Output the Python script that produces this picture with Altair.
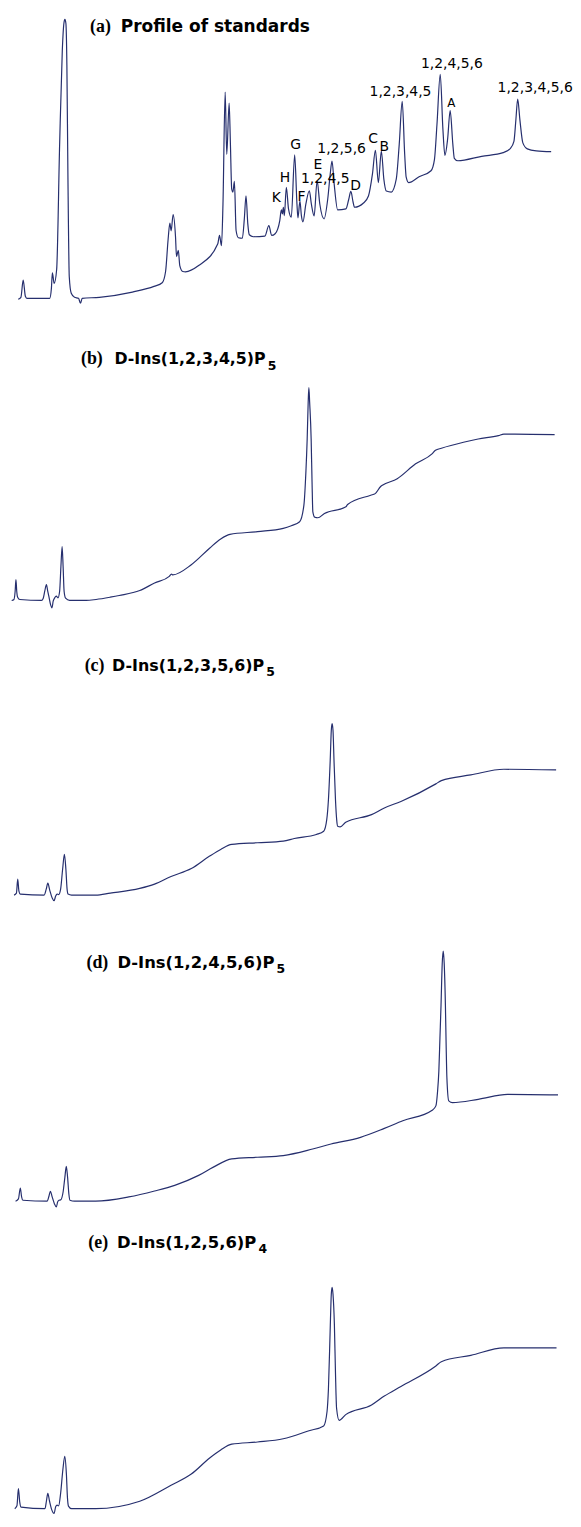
import altair as alt
import pandas as pd

# ---------------- data ----------------
# x: retention time (arbitrary min), y: detector signal above baseline (arbitrary units)

# (a) Profile of standards
a_time = [1.83, 2.10, 2.33, 2.55, 2.70, 5.00, 5.17, 5.27, 5.45, 5.70, 6.00, 6.27, 6.43, 6.53, 6.63,
          6.73, 6.83, 6.97, 7.17, 7.50, 7.90, 8.10, 8.27, 10.00, 13.33, 15.50, 16.33, 16.67, 16.93,
          17.10, 17.23, 17.43, 17.67, 17.77, 17.95, 18.10, 18.40, 18.67, 20.00, 21.93, 22.10, 22.30,
          22.45, 22.67, 22.83, 23.07, 23.20, 23.33, 23.45, 23.60, 23.77, 24.00, 24.40, 24.60, 24.77,
          24.95, 25.10, 25.50, 26.67, 27.07, 27.35, 27.70, 28.17, 28.33, 28.43, 28.53, 28.63, 28.83,
          29.05, 29.33, 29.67, 29.90, 30.00, 30.20, 30.35, 30.50, 30.80, 31.15, 31.35, 31.63, 31.93,
          32.20, 32.63, 33.00, 33.25, 33.43, 33.65, 34.00, 34.83, 35.10, 35.33, 35.55, 35.70, 36.60,
          37.10, 37.50, 37.80, 38.10, 38.40, 38.65, 38.90, 39.40, 39.90, 40.20, 40.50, 40.75, 40.90,
          41.15, 42.20, 43.40, 43.75, 44.00, 44.33, 44.60, 44.80, 45.07, 45.33, 45.60, 45.75, 46.10,
          48.50, 50.67, 51.40, 51.75, 51.95, 52.13, 52.35, 52.65, 53.10, 54.00, 55.50]
a_signal = [-1, 1, 18.3, 2, 0, 0, 10, 25.7, 15, 29, 155, 250, 277, 281, 277,
            235, 128.3, 21.7, 5, 1, 0, -5, 0, 1, 6.3, 12, 15.7, 27, 60,
            75.7, 68, 84.3, 62, 42, 48.3, 33, 27, 26.7, 33, 55, 63.3, 53,
            95, 207.7, 145, 196.7, 155, 110, 107, 117.7, 68.3, 61, 60.5, 80, 103.3,
            75, 64, 62, 62.7, 73.3, 63.3, 65, 78.3, 89, 85, 91.7, 83.3, 111.7,
            90, 81.7, 144.5, 95, 81, 98, 83, 77, 95, 108.3, 95, 83, 118.3,
            95, 80, 100, 125, 138.3, 115, 89, 90, 99, 107.7, 97, 91.7, 96,
            103, 125, 149, 116.5, 148.3, 120, 108, 107, 120, 155, 198.3, 145, 122,
            116.5, 122.5, 128.5, 140, 175, 225.5, 170, 144, 160, 189, 155, 141, 138.5,
            143, 146.7, 151, 158, 180, 200.7, 180, 156.5, 150.5, 148.5, 147.7]

a_labels = ["K", "H", "G", "F", "E", "1,2,4,5", "1,2,5,6", "D", "C", "B",
            "1,2,3,4,5", "1,2,4,5,6", "1,2,3,4,5,6"]
a_label_time = [27.83, 28.70, 29.77, 30.37, 32.00, 32.75, 34.40, 35.80, 37.58, 38.70,
                40.33, 45.50, 53.89]
a_label_signal = [96.7, 116.7, 150, 98.3, 130.5, 116.0, 146.7, 109, 156.7, 148.3,
                  203.3, 232.3, 208]
a_small_label = ["A"]
a_small_time = [45.45]
a_small_signal = [192.3]

# (b) D-Ins(1,2,3,4,5)P5
b_time = [1.17, 1.40, 1.52, 1.60, 1.68, 1.77, 2.00, 4.17, 4.35, 4.50, 4.67, 4.80, 4.93, 5.10, 5.23,
          5.35, 5.50, 5.67, 5.83, 6.00, 6.13, 6.25, 6.35, 6.45, 6.60, 7.00, 8.67, 9.67, 11.10, 12.00,
          14.07, 15.56, 17.04, 17.26, 17.40, 19.26, 21.10, 22.22, 23.15, 25.93, 28.52, 29.33, 30.17,
          30.60, 30.80, 30.93, 31.03, 31.10, 31.18, 31.33, 31.42, 31.50, 31.70, 32.00, 32.67, 34.83,
          35.00, 37.33, 37.78, 38.33, 38.50, 40.00, 41.85, 43.50, 43.85, 44.45, 46.67, 48.15, 50.19,
          50.74, 51.85, 55.85]
b_signal = [-0.3, 0.7, 9, 20.7, 9, 3, 0.7, -0.3, 2, 9, 15.7, 9, 3, -5, -7.7,
            -1, 2.3, 4, 2.3, 9, 34, 54, 34, 9, 2, -0.3, -0.3, 0.7, 3, 4.7,
            9.7, 17.3, 24, 26.3, 25.5, 35.7, 52.3, 61.7, 66.3, 69, 72.3, 75, 79,
            95.7, 129, 162.3, 199, 214, 199, 162.3, 119, 89, 83.5, 83, 87.3, 94,
            96.3, 105.7, 107.3, 114.5, 115.7, 122.3, 137.3, 147.3, 151, 153, 159, 162.3, 165.7,
            167.3, 167.3, 166.7]

# (c) D-Ins(1,2,3,5,6)P5
c_time = [1.41, 1.65, 1.78, 1.90, 2.04, 4.44, 4.65, 4.81, 5.00, 5.25, 5.44, 5.60, 5.74, 5.90, 6.10,
          6.30, 6.48, 6.63, 6.75, 6.85, 7.20, 9.63, 11.10, 14.07, 15.56, 17.22, 19.26, 21.11, 22.22,
          23.33, 25.93, 28.52, 29.63, 31.85, 32.59, 32.90, 33.07, 33.25, 33.36, 33.44, 33.53, 33.63,
          33.78, 33.90, 34.00, 34.26, 34.81, 37.41, 38.70, 40.37, 43.89, 44.44, 47.41, 50.74, 56.00]
c_signal = [0, 2, 16, 4, 1, 0, 6, 12, 5, -3, -5.7, -1, 1, 0.5, 6,
            26, 41, 26, 6, 1, 0, 0, 2, 6.7, 11, 18.7, 26.7, 39.3, 46,
            51, 52.7, 54.3, 57, 61, 64.3, 76, 96, 136, 166, 172.7, 166, 136,
            96, 76, 69.3, 68.7, 73.3, 81, 87.7, 94.3, 112, 115.3, 121, 126.7, 126]

# (d) D-Ins(1,2,4,5,6)P5
d_time = [1.56, 1.85, 2.04, 2.17, 2.30, 4.74, 4.93, 5.07, 5.25, 5.48, 5.67, 5.80, 5.93, 6.10, 6.35,
          6.53, 6.67, 6.80, 6.93, 7.04, 7.50, 9.63, 12.96, 15.56, 17.59, 20.00, 21.48, 23.33, 25.93,
          28.52, 31.48, 33.33, 36.30, 38.70, 40.56, 43.52, 43.89, 44.05, 44.19, 44.30, 44.41, 44.53,
          44.63, 44.73, 44.85, 44.93, 45.00, 45.19, 45.56, 48.15, 51.11, 56.19]
d_signal = [-0.3, 2, 13, 4, 0.7, -0.3, 5, 9.7, 4, -3, -6, -1, 0.7, 1, 9,
            24, 34.7, 24, 7, 0.7, -0.3, -0.3, 4, 10, 15.7, 25.7, 34, 42.3, 44,
            45.7, 52.3, 57.3, 64, 73, 80.7, 91.3, 95.7, 109, 130.7, 164, 197.3, 239,
            251.7, 239, 197.3, 154, 124, 100.7, 99, 102.3, 107.3, 106.7]

# (e) D-Ins(1,2,5,6)P4
e_time = [1.48, 1.70, 1.85, 1.98, 2.11, 4.52, 4.67, 4.81, 4.98, 5.20, 5.44, 5.60, 5.74, 5.90, 6.10,
          6.33, 6.52, 6.68, 6.79, 6.89, 7.20, 9.63, 14.07, 17.22, 19.26, 21.11, 22.22, 23.33, 25.93,
          28.52, 31.11, 32.59, 32.93, 33.07, 33.26, 33.36, 33.44, 33.53, 33.67, 33.78, 33.89, 34.15,
          34.81, 37.41, 38.70, 40.37, 43.89, 44.44, 47.41, 50.74, 56.04]
e_signal = [0, 3, 21, 7, 1.7, 0, 8, 16, 8, -1, -5, 2, 3.7, 3, 16,
            41, 54.3, 36, 11, 2.7, 0, 0, 7.7, 24.3, 36, 52.7, 61, 67, 69.3,
            72.7, 81, 86, 101, 124.3, 191, 223, 230, 223, 191, 141, 104.3, 91.7,
            97.7, 107.7, 117, 127, 148.3, 152.7, 159.3, 167, 167]

panel_titles = [
    ("(a)", "Profile of standards", ""),
    ("(b)", "D-Ins(1,2,3,4,5)P", "5"),
    ("(c)", "D-Ins(1,2,3,5,6)P", "5"),
    ("(d)", "D-Ins(1,2,4,5,6)P", "5"),
    ("(e)", "D-Ins(1,2,5,6)P", "4"),
]

# ---------------- styling / layout ----------------
LINE = "#262f6e"
XDOM = [0.8, 57.7]
W = 569
SANS = "DejaVu Sans"
SERIF = "Liberation Serif"

# (panel height, y domain,
#  title layout: serif x, sans x, sans align, baseline y, sub x, sub y, sans size)
layout = [
    (302, [-15, 287], (82.7, 113.5, "left", 19.0, 0, 0, 17.1)),
    (330, [-41, 289], (73.5, 259.4, "right", 51.5, 261.6, 57.3, 15.9)),
    (300, [-44, 256], (77.2, 258.0, "right", 30.0, 260.2, 35.0, 16.0)),
    (290, [-26, 264], (79.0, 268.3, "right", 29.3, 270.5, 34.3, 16.5)),
    (289, [-5.2, 292.9], (80.9, 250.1, "right", 21.7, 252.3, 26.7, 16.5)),
]


def xs():
    return alt.X("time:Q", scale=alt.Scale(domain=XDOM, nice=False, zero=False), axis=None)


def ys(dom):
    return alt.Y("signal:Q", scale=alt.Scale(domain=dom, nice=False, zero=False), axis=None)


def trace(times, signal, dom):
    df = pd.DataFrame({"time": times, "signal": signal})
    return alt.Chart(df).mark_line(
        color=LINE, strokeWidth=1.2, interpolate="monotone"
    ).encode(x=xs(), y=ys(dom))


def text_piece(txt, x, y, font, size, align="left"):
    return alt.Chart(pd.DataFrame({"txt": [txt]})).mark_text(
        font=font, fontSize=size, fontWeight="bold",
        align=align, baseline="alphabetic", color="black"
    ).encode(x=alt.value(x), y=alt.value(y), text="txt:N")


def title_layers(parts, lay):
    serif_txt, sans_txt, sub_txt = parts
    sx, tx, talign, by, subx, suby, fs = lay
    out = [text_piece(serif_txt, sx, by, SERIF, 18),
           text_piece(sans_txt, tx, by, SANS, fs, talign)]
    if sub_txt:
        out.append(text_piece(sub_txt, subx, suby, SANS, 12.5))
    return out


series = [(a_time, a_signal), (b_time, b_signal), (c_time, c_signal),
          (d_time, d_signal), (e_time, e_signal)]

panels = []
for i, ((t, s), (h, dom, lay)) in enumerate(zip(series, layout)):
    layers = [trace(t, s, dom)]
    if i == 0:
        lab = pd.DataFrame({"label": a_labels, "time": a_label_time, "signal": a_label_signal})
        layers.append(alt.Chart(lab).mark_text(
            font=SANS, fontSize=14, align="center", baseline="alphabetic", color="black"
        ).encode(x=xs(), y=ys(dom), text="label:N"))
        lab2 = pd.DataFrame({"label": a_small_label, "time": a_small_time, "signal": a_small_signal})
        layers.append(alt.Chart(lab2).mark_text(
            font=SANS, fontSize=12, align="center", baseline="alphabetic", color="black"
        ).encode(x=xs(), y=ys(dom), text="label:N"))
    layers += title_layers(panel_titles[i], lay)
    panels.append(alt.layer(*layers).properties(width=W, height=h))

chart = alt.vconcat(*panels, spacing=0, bounds="flush").properties(
    padding=0
).configure_view(stroke=None)

chart.save("out.html", embed_options={"renderer": "svg", "actions": False})
